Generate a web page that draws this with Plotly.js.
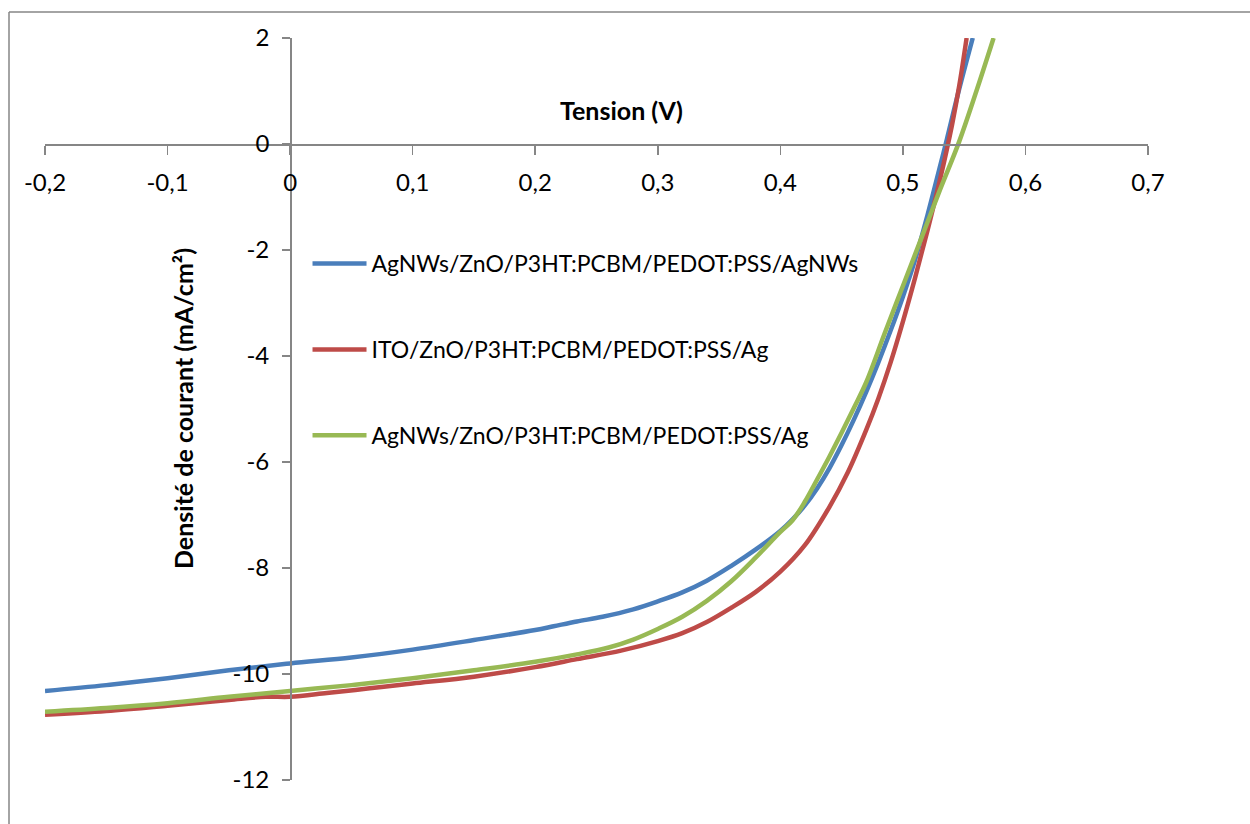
<!DOCTYPE html>
<html>
<head>
<meta charset="utf-8">
<script src="https://cdn.plot.ly/plotly-3.0.1.min.js"></script>
<style>
  html, body { margin: 0; padding: 0; background: #ffffff; }
  #chart { width: 1250px; height: 824px; }
</style>
</head>
<body>
<div id="chart"></div>
<script>
// Series names
const seriesNames = [
  "AgNWs/ZnO/P3HT:PCBM/PEDOT:PSS/AgNWs",
  "ITO/ZnO/P3HT:PCBM/PEDOT:PSS/Ag",
  "AgNWs/ZnO/P3HT:PCBM/PEDOT:PSS/Ag"
];

// Blue: AgNWs/.../AgNWs
const blueV = [-0.2, -0.15, -0.1, -0.05, 0, 0.05, 0.1, 0.15, 0.2, 0.215, 0.234, 0.255, 0.28, 0.3, 0.32, 0.34, 0.36, 0.38, 0.4, 0.41, 0.42, 0.43, 0.44, 0.45, 0.46, 0.47, 0.48, 0.49, 0.5, 0.51, 0.52, 0.53, 0.536, 0.545, 0.557];
const blueJ = [-10.32, -10.21, -10.08, -9.93, -9.8, -9.69, -9.54, -9.36, -9.17, -9.1, -9.01, -8.92, -8.78, -8.63, -8.46, -8.24, -7.96, -7.65, -7.3, -7.08, -6.82, -6.5, -6.12, -5.68, -5.2, -4.68, -4.12, -3.52, -2.88, -2.18, -1.35, -0.45, 0.1, 0.95, 2.0];

// Red: ITO/.../Ag
const redV = [-0.2, -0.15, -0.1, -0.05, -0.02, 0, 0.03, 0.065, 0.1, 0.15, 0.2, 0.234, 0.27, 0.3, 0.32, 0.34, 0.36, 0.38, 0.4, 0.42, 0.44, 0.455, 0.47, 0.48, 0.49, 0.5, 0.51, 0.52, 0.53, 0.54, 0.546, 0.552];
const redJ = [-10.77, -10.7, -10.6, -10.49, -10.43, -10.43, -10.36, -10.27, -10.18, -10.05, -9.87, -9.72, -9.56, -9.38, -9.23, -9.02, -8.75, -8.45, -8.07, -7.57, -6.85, -6.2, -5.4, -4.8, -4.12, -3.35, -2.52, -1.64, -0.7, 0.35, 1.1, 2.0];

// Green: AgNWs/.../Ag
const greenV = [-0.2, -0.15, -0.1, -0.05, 0, 0.05, 0.1, 0.15, 0.2, 0.234, 0.26, 0.28, 0.3, 0.32, 0.34, 0.36, 0.38, 0.4, 0.41, 0.42, 0.43, 0.44, 0.45, 0.46, 0.47, 0.485, 0.5, 0.515, 0.53, 0.546, 0.56, 0.574];
const greenJ = [-10.71, -10.64, -10.55, -10.43, -10.32, -10.21, -10.08, -9.93, -9.77, -9.63, -9.5, -9.35, -9.15, -8.92, -8.62, -8.25, -7.8, -7.32, -7.1, -6.75, -6.33, -5.9, -5.45, -4.98, -4.5, -3.58, -2.68, -1.78, -0.88, 0.05, 1.0, 2.0];

// Ticks
const xTickVals = [-0.2, -0.1, 0, 0.1, 0.2, 0.3, 0.4, 0.5, 0.6, 0.7];
const xTickText = ["-0,2", "-0,1", "0", "0,1", "0,2", "0,3", "0,4", "0,5", "0,6", "0,7"];
const yTickVals = [-12, -10, -8, -6, -4, -2, 0, 2];
const yTickText = ["-12", "-10", "-8", "-6", "-4", "-2", "0", "2"];

const colors = ["#4A7EBB", "#BE4B48", "#98B954"];
const FONT = "Lato, 'Open Sans', sans-serif";

function mk(x, y, i) {
  return {
    x: x, y: y, name: seriesNames[i], type: "scatter", mode: "lines",
    line: { color: colors[i], width: 4.5, shape: "spline", smoothing: 1 },
    legendgroup: "g" + i, hoverinfo: "skip"
  };
}

const data = [mk(blueV, blueJ, 0), mk(redV, redJ, 1), mk(greenV, greenJ, 2)];

const axisGray = "#868686";
const layout = {
  width: 1250, height: 824,
  margin: { l: 45, r: 102, t: 38, b: 44 },
  paper_bgcolor: "#ffffff", plot_bgcolor: "#ffffff",
  font: { family: FONT, color: "#000000", size: 24 },
  showlegend: true,
  legend: {
    x: 0.238, y: 0.725, xanchor: "left", yanchor: "top",
    bgcolor: "rgba(0,0,0,0)", borderwidth: 0,
    font: { family: FONT, size: 23, color: "#000000" },
    traceorder: "grouped", tracegroupgap: 53, itemwidth: 54
  },
  xaxis: {
    range: [-0.2, 0.7], anchor: "free", position: 12 / 14,
    showgrid: false, zeroline: false, showline: true, linecolor: axisGray, linewidth: 1.5,
    ticks: "outside", ticklen: 9, tickwidth: 1.5, tickcolor: axisGray,
    tickvals: xTickVals, ticktext: xTickText, ticklabelstandoff: 8,
    tickfont: { family: FONT, size: 24, color: "#000000" }
  },
  yaxis: {
    range: [-12, 2], anchor: "free", position: 0.2 / 0.9,
    showgrid: false, zeroline: false, showline: true, linecolor: axisGray, linewidth: 1.5,
    ticks: "outside", ticklen: 8, tickwidth: 1.5, tickcolor: axisGray,
    tickvals: yTickVals, ticktext: yTickText, ticklabelstandoff: 8,
    tickfont: { family: FONT, size: 24, color: "#000000" }
  },
  annotations: [
    { text: "<b>Tension (V)</b>", xref: "paper", yref: "paper",
      x: (621 - 45) / 1103, y: (780 - 110) / 742, xanchor: "center", yanchor: "middle",
      showarrow: false, font: { family: FONT, size: 25, color: "#000000" } },
    { text: "<b>Densité de courant (mA/cm²)</b>", xref: "paper", yref: "paper",
      x: (183 - 45) / 1103, y: (780 - 409) / 742, xanchor: "center", yanchor: "middle",
      textangle: -90, showarrow: false, font: { family: FONT, size: 25, color: "#000000" } }
  ],
  shapes: [
    { type: "line", xref: "paper", yref: "paper", layer: "below",
      x0: (9 - 45) / 1103, x1: (1260 - 45) / 1103, y0: (780 - 12) / 742, y1: (780 - 12) / 742,
      line: { color: axisGray, width: 1.5 } },
    { type: "line", xref: "paper", yref: "paper", layer: "below",
      x0: (9 - 45) / 1103, x1: (9 - 45) / 1103, y0: (780 - 12) / 742, y1: (780 - 840) / 742,
      line: { color: axisGray, width: 1.5 } }
  ]
};

Plotly.newPlot("chart", data, layout, { displayModeBar: false, staticPlot: true });
</script>
</body>
</html>
